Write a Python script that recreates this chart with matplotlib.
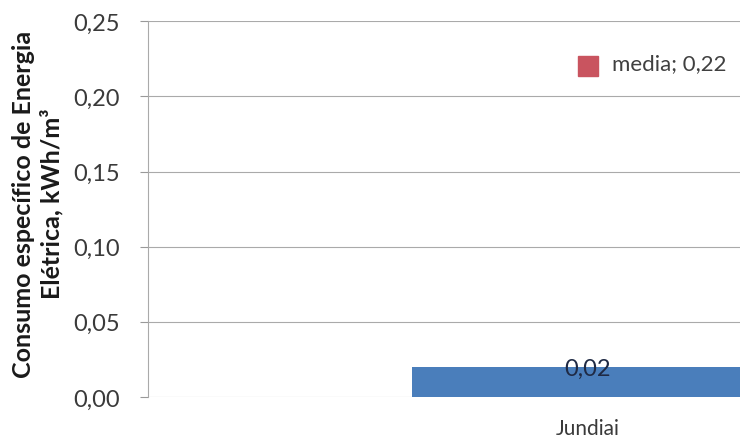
import matplotlib.pyplot as plt
import numpy as np

# data
categorias = ["Jundiai"]
consumo = [0.02]
media = [0.22]
y_ticks = [0.00, 0.05, 0.10, 0.15, 0.20, 0.25]

plt.rcParams["font.family"] = ["Lato", "DejaVu Sans"]

fig = plt.figure(figsize=(7.4, 4.39), dpi=100)
# plot area is wider than the picture: the original is cropped on the right
ax = fig.add_axes([0.2, 0.0934, 1.189, 0.856])

x = np.arange(len(categorias))
ax.bar(x, consumo, width=0.4, color="#4a7ebb", zorder=3)
ax.plot(x, media, linestyle="none", marker="s", markersize=14,
        color="#c9545f", zorder=4)

for xi, v in zip(x, consumo):
    ax.text(xi, v - 0.001, f"{v:.2f}".replace(".", ","), ha="center", va="center",
            fontsize=17, color="#1f2a44", zorder=5)
for xi, m in zip(x, media):
    ax.annotate(f"media; {m:.2f}".replace(".", ","), (xi, m), xytext=(17, 2),
                textcoords="offset points", va="center", fontsize=16,
                color="#404040")

ax.set_xlim(-0.5, 0.5)
ax.set_ylim(0, 0.25)
ax.set_yticks(y_ticks)
ax.set_yticklabels([f"{t:.2f}".replace(".", ",") for t in y_ticks])
ax.set_xticks(x)
ax.set_xticklabels(categorias)
ax.tick_params(axis="y", labelsize=17, length=6, color="#999999",
               labelcolor="#3a3a3a", pad=14)
ax.tick_params(axis="x", labelsize=15, length=0, labelcolor="#3a3a3a", pad=15)

ax.grid(axis="y", color="#aaaaaa", linewidth=0.8, zorder=0)
for side in ("top", "right", "bottom"):
    ax.spines[side].set_visible(False)
ax.spines["left"].set_color("#aaaaaa")
ax.spines["left"].set_linestyle((0, (1, 1)))

ax.set_ylabel("Consumo específico de Energia\nElétrica, kWh/m³", fontsize=18,
              fontweight="bold", color="#1a1a1a", linespacing=1.25)
ax.yaxis.set_label_coords(-0.096, 0.516)

fig.savefig("out.png", dpi=100)
